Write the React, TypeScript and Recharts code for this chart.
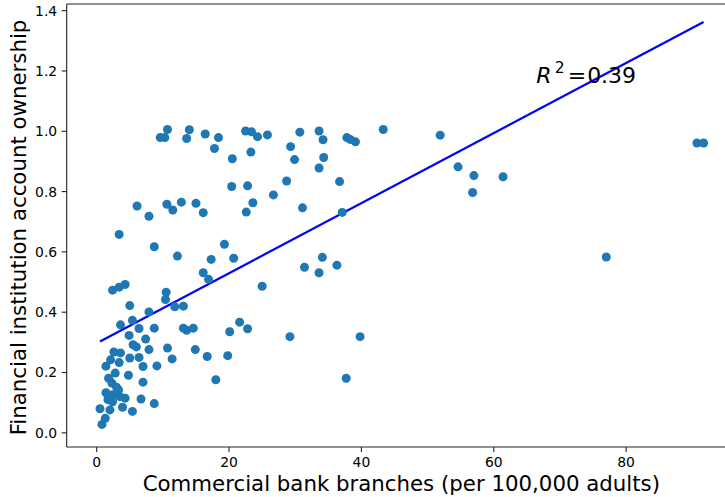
import React from 'react';
import { ScatterChart, Scatter, XAxis, YAxis, ReferenceLine, ReferenceDot } from 'recharts';

// Commercial bank branches (per 100,000 adults)
const branches = [
  43.3, 51.9, 54.6, 57.0, 56.8, 61.4, 77.0, 90.7, 91.7, 39.8, 39.1,
  14.0, 13.6, 16.4, 18.4, 17.8, 22.5, 23.4, 24.3, 25.8, 23.3, 20.5, 30.7, 29.3, 29.9,
  33.6, 34.2, 34.3, 33.6, 37.8, 38.3, 20.4, 22.8, 28.7, 36.7, 26.7, 12.8, 15.0, 16.1,
  23.6, 22.6, 31.1, 37.1, 19.3, 17.3, 20.7, 12.2, 16.1, 16.9, 25.0, 31.4, 34.1, 33.6,
  36.3, 13.1, 13.1, 13.6, 14.6, 21.6, 20.1, 22.8, 29.2, 14.9, 16.7, 19.8, 18.0, 37.7,
  9.6, 10.3, 10.7, 6.1, 7.9, 10.6, 11.5, 3.4, 8.7,
  2.4, 3.4, 4.3, 10.5, 10.4, 5.0, 7.9, 11.8, 3.6, 5.4, 6.4, 8.7, 4.9, 7.4,
  5.5, 6.0, 7.9, 10.7, 2.6, 3.6, 1.4, 2.1, 3.4, 5.0, 6.4, 7.0, 9.1, 2.8, 4.8, 7.0,
  1.8, 2.3, 3.0, 3.3, 1.4, 2.4, 3.5, 4.3, 6.7, 8.7, 0.5, 2.0, 3.9, 5.4, 1.3, 0.8,
  2.4, 1.7, 11.4,
];

// Financial institution account ownership
const ownership = [
  1.006, 0.987, 0.882, 0.853, 0.797, 0.849, 0.583, 0.961, 0.961, 0.319, 0.965,
  1.005, 0.976, 0.991, 0.979, 0.943, 1.001, 0.998, 0.982, 0.988, 0.931, 0.909, 0.997, 0.949, 0.906,
  1.001, 0.972, 0.913, 0.878, 0.979, 0.973, 0.817, 0.819, 0.835, 0.833, 0.789, 0.765, 0.761, 0.730,
  0.763, 0.732, 0.746, 0.731, 0.625, 0.575, 0.579, 0.586, 0.531, 0.509, 0.486, 0.549, 0.582, 0.531,
  0.556, 0.420, 0.347, 0.340, 0.347, 0.367, 0.335, 0.345, 0.319, 0.276, 0.253, 0.256, 0.176, 0.181,
  0.979, 0.979, 1.006, 0.752, 0.718, 0.758, 0.739, 0.658, 0.617,
  0.473, 0.483, 0.492, 0.466, 0.442, 0.422, 0.401, 0.418, 0.358, 0.373, 0.346, 0.347, 0.323, 0.311,
  0.292, 0.285, 0.276, 0.281, 0.268, 0.265, 0.221, 0.242, 0.233, 0.248, 0.250, 0.220, 0.222, 0.198, 0.191, 0.168,
  0.181, 0.165, 0.151, 0.142, 0.133, 0.126, 0.120, 0.115, 0.112, 0.097, 0.080, 0.076, 0.085, 0.071, 0.048, 0.028,
  0.103, 0.110, 0.245,
];

// Fitted regression line endpoints
const fitLine = [
  { x: 0.5, y: 0.303 },
  { x: 91.7, y: 1.362 },
];

const xTicks = [0, 20, 40, 60, 80];
const yTicks = [0, 0.2, 0.4, 0.6, 0.8, 1.0, 1.2, 1.4];
const xDomain: [number, number] = [-4.53, 96.6];
const yDomain: [number, number] = [-0.047, 1.422];
const r2Value = '0.39';
const r2Pos = { x: 66.4, y: 1.159 };

const xLabel = 'Commercial bank branches (per 100,000 adults)';
const yLabel = 'Financial institution account ownership';

const points = branches.map((x, i) => ({ x, y: ownership[i] }));

const FONT = '"DejaVu Sans", sans-serif';
const AXIS = '#222';

const XLabelContent = (props: any) => {
  const vb = props.viewBox || { x: 66.7, y: 447, width: 669, height: 50 };
  return (
    <text x={vb.x + vb.width / 2} y={vb.y + 43.5} textAnchor="middle" fontSize={21.3} fontFamily={FONT} fill="#000">
      {xLabel}
    </text>
  );
};

const YLabelContent = (props: any) => {
  const vb = props.viewBox || { x: 0, y: 4, width: 66.7, height: 443 };
  const cx = vb.x + 26;
  const cy = vb.y + vb.height / 2 + 2;
  return (
    <text x={cx} y={cy} transform={`rotate(-90, ${cx}, ${cy})`} textAnchor="middle" fontSize={21.3} fontFamily={FONT} fill="#000">
      {yLabel}
    </text>
  );
};

const R2Content = (props: any) => {
  const vb = props.viewBox || { x: 0, y: 0, width: 0, height: 0 };
  const cx = vb.x + (vb.width || 0) / 2;
  const cy = vb.y + (vb.height || 0) / 2;
  return (
    <g fontFamily={FONT} fill="#000">
      <text x={cx} y={cy} fontSize={22} fontStyle="italic">R</text>
      <text x={cx + 18.5} y={cy - 10.5} fontSize={15.5}>2</text>
      <text x={cx + 31.5} y={cy} fontSize={22}>=</text>
      <text x={cx + 51} y={cy} fontSize={22}>{r2Value}</text>
    </g>
  );
};

const Dot = (props: any) => {
  if (props.cx == null || props.cy == null) return null;
  return <circle cx={props.cx} cy={props.cy} r={4.5} fill="#1f77b4" />;
};

export default function App() {
  return (
    <div style={{ position: 'absolute', left: 0, top: 0, width: 725, height: 497, overflow: 'hidden', background: '#fff' }}>
      <ScatterChart width={736} height={497} margin={{ top: 3, right: 0, bottom: 0, left: 0 }}>
        <XAxis
          dataKey="x"
          type="number"
          domain={xDomain}
          allowDataOverflow
          ticks={xTicks}
          tickSize={5}
          tickMargin={5}
          height={50}
          tick={{ fontSize: 13.9, fill: '#000', fontFamily: FONT }}
          axisLine={{ stroke: AXIS, strokeWidth: 1.1 }}
          tickLine={{ stroke: AXIS, strokeWidth: 1.1 }}
          label={XLabelContent}
        />
        <XAxis
          xAxisId="top"
          orientation="top"
          type="number"
          domain={xDomain}
          allowDataOverflow
          height={1}
          tick={false}
          tickLine={false}
          axisLine={{ stroke: AXIS, strokeWidth: 1.1 }}
        />
        <YAxis
          dataKey="y"
          type="number"
          domain={yDomain}
          allowDataOverflow
          ticks={yTicks}
          tickFormatter={(v: number) => v.toFixed(1)}
          tickSize={5}
          tickMargin={4.5}
          width={66.7}
          tick={{ fontSize: 13.9, fill: '#000', fontFamily: FONT }}
          axisLine={{ stroke: AXIS, strokeWidth: 1.1 }}
          tickLine={{ stroke: AXIS, strokeWidth: 1.1 }}
          label={YLabelContent}
        />
        <Scatter data={points} shape={Dot} isAnimationActive={false} />
        <ReferenceLine segment={fitLine} stroke="#0000ff" strokeWidth={2.2} />
        <ReferenceDot x={r2Pos.x} y={r2Pos.y} r={1} fill="none" stroke="none" label={R2Content} />
      </ScatterChart>
    </div>
  );
}
